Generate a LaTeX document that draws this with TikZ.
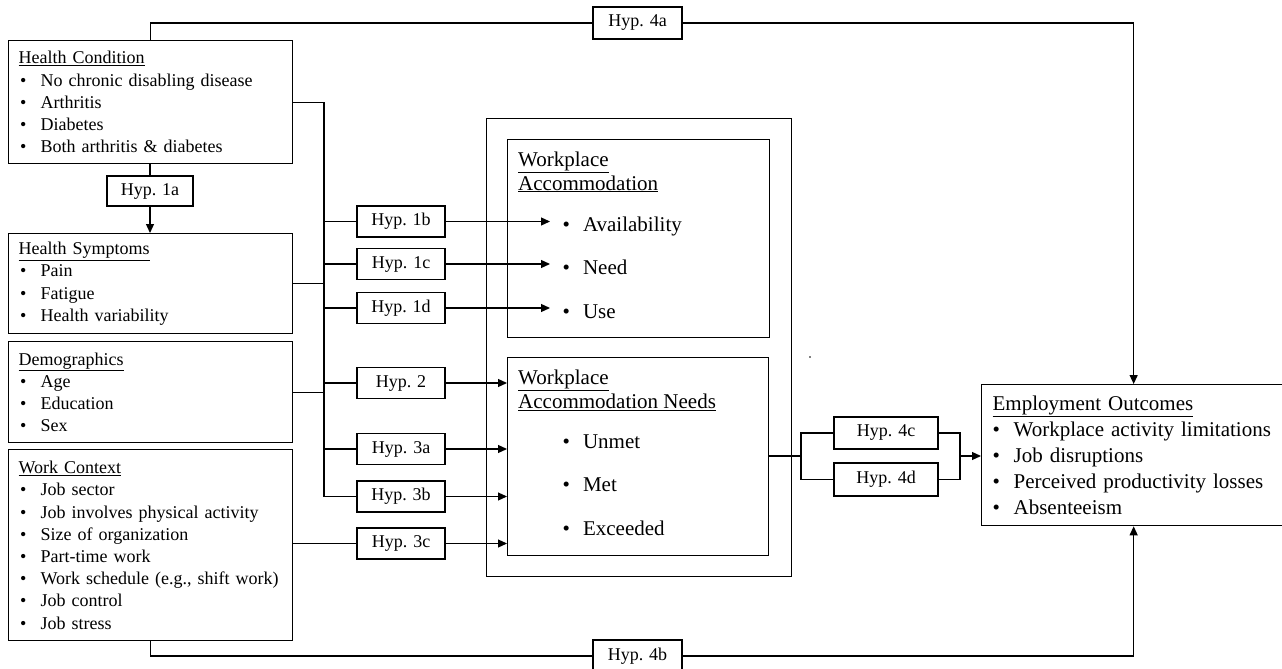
\documentclass[tikz,border=0pt]{standalone}
\usepackage{fontspec}
\setmainfont{Liberation Serif}
\usetikzlibrary{arrows.meta}
\newcommand\lbul{\hspace*{1.5pt}\makebox[20.5pt][l]{\textbullet}}
\newcommand\ebul{\makebox[21pt][l]{\textbullet}}
\begin{document}
\begin{tikzpicture}[x=1pt,y=-1pt,
  box/.style={draw,line width=1.3pt,rectangle,anchor=north west,inner ysep=0pt,align=left},
  lt/.style={font=\fontsize{18}{22.2}\selectfont},
  et/.style={font=\fontsize{21}{26}\selectfont},
  hyp/.style={draw,line width=1.2pt,rectangle,minimum width=88pt,minimum height=31pt,inner sep=0pt,font=\fontsize{18}{20}\selectfont},
  frame/.style={draw,line width=1.3pt,rectangle,anchor=north west,inner sep=0pt},
  ln/.style={line width=1.2pt},
  arr/.style={ln,-{Triangle[length=9pt,width=8pt]}},
  whead/.style={anchor=base west,align=left,inner sep=0pt,font=\fontsize{21}{24}\selectfont},
  itm/.style={anchor=base west,inner sep=0pt,font=\fontsize{21}{24}\selectfont}]
\useasboundingbox (0,0) rectangle (1282,669);

% left boxes
\node[box,lt,text width=264pt,inner xsep=10pt,minimum height=123pt] (HC) at (8,40)
 {\underline{Health Condition}\\ \lbul No chronic disabling disease\\ \lbul Arthritis\\ \lbul Diabetes\\ \lbul Both arthritis \& diabetes};
\node[box,lt,text width=264pt,inner xsep=10pt,minimum height=100pt] (HS) at (8,233)
 {\underline{Health Symptoms}\\ \lbul Pain\\ \lbul Fatigue\\ \lbul Health variability};
\node[box,lt,text width=264pt,inner xsep=10pt,minimum height=101pt] (DM) at (8,341)
 {\underline{Demographics}\\ \lbul Age\\ \lbul Education\\ \lbul Sex};
\node[box,lt,text width=264pt,inner xsep=10pt,minimum height=191pt] (WC) at (8,449)
 {\underline{Work Context}\\ \lbul Job sector\\ \lbul Job involves physical activity\\ \lbul Size of organization\\ \lbul Part-time work\\ \lbul Work schedule (e.g., shift work)\\ \lbul Job control\\ \lbul Job stress};

% middle frames
\node[frame,minimum width=305pt,minimum height=458pt] (outer) at (486,118) {};
\node[frame,minimum width=262pt,minimum height=198pt] (WA) at (507,139) {};
\node[frame,minimum width=261pt,minimum height=198pt] (WAN) at (507,357) {};
\node[whead] (WAh) at (518,190) {\underline{Workplace}\\\underline{Accommodation}};
\node[whead] (WANh) at (518,408.5) {\underline{Workplace}\\\underline{Accommodation Needs}};
\node[itm] (avail) at (562.5,231) {\textbullet\hspace{13pt}Availability};
\node[itm] (need) at (562.5,274.5) {\textbullet\hspace{13pt}Need};
\node[itm] (use) at (562.5,318) {\textbullet\hspace{13pt}Use};
\node[itm] (unmet) at (562.5,448.5) {\textbullet\hspace{13pt}Unmet};
\node[itm] (met) at (562.5,491.5) {\textbullet\hspace{13pt}Met};
\node[itm] (exc) at (562.5,535.5) {\textbullet\hspace{13pt}Exceeded};

% outcome box
\node[box,et,text width=282pt,inner xsep=11pt,minimum height=141pt] (EO) at (981,384)
 {\underline{Employment Outcomes}\\ \ebul Workplace activity limitations\\ \ebul Job disruptions\\ \ebul Perceived productivity losses\\ \ebul Absenteeism};

% hypothesis boxes
\node[hyp,minimum width=86pt,minimum height=30pt] (h1a) at (150,191) {Hyp. 1a};
\node[hyp] (h1b) at (401,221.5) {Hyp. 1b};
\node[hyp] (h1c) at (401,264) {Hyp. 1c};
\node[hyp] (h1d) at (401,308) {Hyp. 1d};
\node[hyp] (h2) at (401,383) {Hyp. 2};
\node[hyp] (h3a) at (401,449) {Hyp. 3a};
\node[hyp] (h3b) at (401,496.5) {Hyp. 3b};
\node[hyp] (h3c) at (401,543.5) {Hyp. 3c};
\node[hyp,minimum width=89pt,minimum height=32pt] (h4a) at (637.5,23) {Hyp. 4a};
\node[hyp,minimum width=89pt,minimum height=32pt] (h4b) at (637.5,656) {Hyp. 4b};
\node[hyp,minimum width=104pt,minimum height=32pt] (h4c) at (886,433) {Hyp. 4c};
\node[hyp,minimum width=104pt,minimum height=33pt] (h4d) at (886,479.5) {Hyp. 4d};

% Hyp 1a
\draw[ln] (h1a.north |- HC.south) -- (h1a.north);
\draw[arr] (h1a.south) -- (h1a.south |- HS.north);

% bus
\coordinate (busB) at (324,496.5);
\draw[ln] (HC.east) -| (busB) -- (h3b.west);
\draw[ln] (HS.east) -- (HS.east -| busB);
\draw[ln] (DM.east) -- (DM.east -| busB);
\foreach \h in {h1b,h1c,h1d,h2,h3a}
  \draw[ln] (\h.west -| busB) -- (\h.west);
\draw[ln] (h3c.west -| WC.east) -- (h3c.west);

% arrows into the middle
\draw[arr,shorten >=12.5pt] (h1b.east) -- (h1b.east -| avail.west);
\draw[arr,shorten >=12.5pt] (h1c.east) -- (h1c.east -| need.west);
\draw[arr,shorten >=12.5pt] (h1d.east) -- (h1d.east -| use.west);
\foreach \h in {h2,h3a,h3b,h3c}
  \draw[arr] (\h.east) -- (\h.east -| WAN.west);

% Hyp 4c / 4d
\coordinate (fL) at (801,456);
\coordinate (fR) at (960,456);
\draw[ln] (WAN.east |- fL) -- (fL);
\draw[ln] (h4c.west) -| (fL) |- (h4d.west);
\draw[ln] (h4c.east) -| (fR) |- (h4d.east);
\draw[arr] (fR) -- (fR -| EO.west);

% Hyp 4a / 4b
\draw[ln] (HC.north) |- (h4a.west);
\draw[arr] (h4a.east) -| (EO.north);
\draw[ln] (WC.south) |- (h4b.west);
\draw[arr] (h4b.east) -| (EO.south);

% stray mark
\fill (810,357) circle (0.8);
\end{tikzpicture}
\end{document}
